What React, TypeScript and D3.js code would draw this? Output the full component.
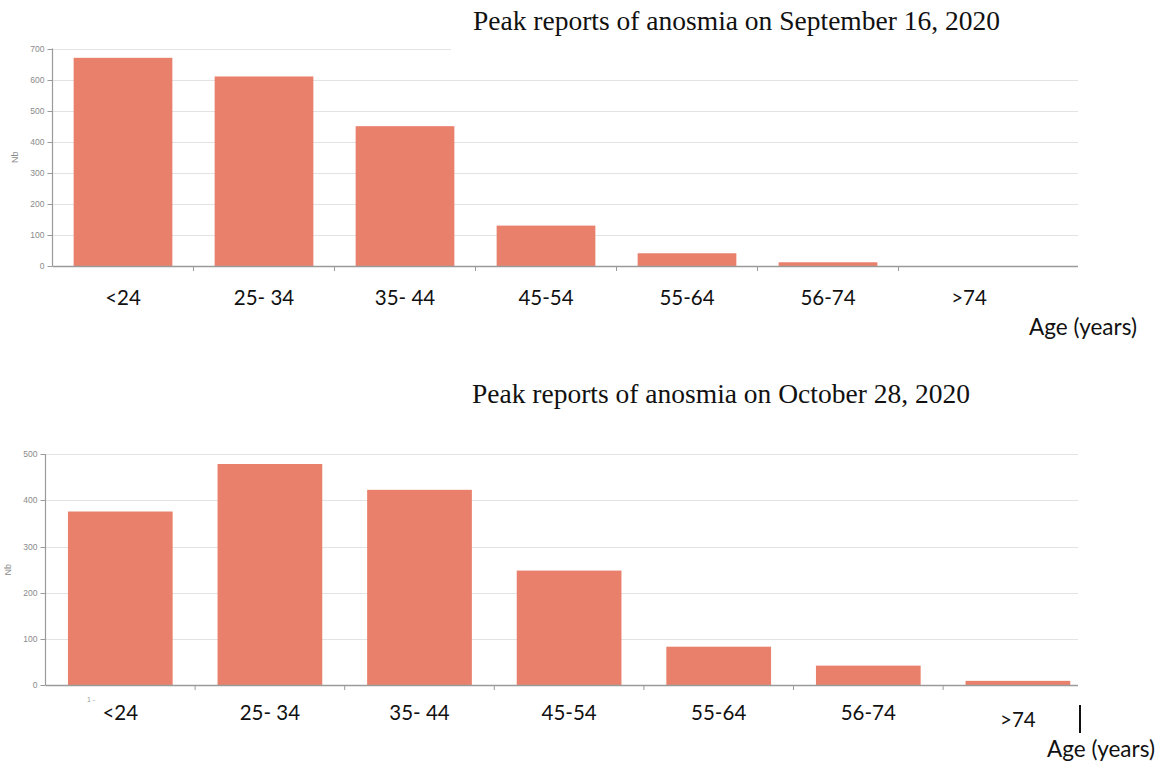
import React, { useRef, useEffect } from 'react';
import * as d3 from 'd3';

const ageGroups = ['<24', '25- 34', '35- 44', '45-54', '55-64', '56-74', '>74'];
const septemberCounts = [670, 610, 450, 130, 41, 12, 0];
const octoberCounts = [376, 479, 423, 248, 83, 42, 9];
const septemberTicks = [0, 100, 200, 300, 400, 500, 600, 700];
const octoberTicks = [0, 100, 200, 300, 400, 500];

const BAR = '#e9806c';
const GRID = '#e3e3e3';
const AXIS = '#9a9a9a';
const LABEL_FONT = 'Lato, "Open Sans", sans-serif';
const TITLE_FONT = '"Liberation Serif", "DejaVu Serif", serif';

const App = () => {
  const svgRef = useRef(null);

  useEffect(() => {
    const svg = d3.select(svgRef.current);
    svg.selectAll('*').remove();

    const panels = [
      {
        title: 'Peak reports of anosmia on September 16, 2020',
        values: septemberCounts, ticks: septemberTicks, yMax: 700,
        left: 52.5, step: 141, axisEnd: 1078, y0: 266, yTop: 48.5,
        titleX: 473, titleY: 30, labelY: 305, nbX: 18, maskFrom: 451,
        ageX: 1029, ageY: 335, lastLabelY: 305, bar: false, small: false,
      },
      {
        title: 'Peak reports of anosmia on October 28, 2020',
        values: octoberCounts, ticks: octoberTicks, yMax: 500,
        left: 45.5, step: 149.6, axisEnd: 1078, y0: 685, yTop: 454.3,
        titleX: 472, titleY: 403, labelY: 720, nbX: 11, maskFrom: null,
        ageX: 1047, ageY: 757, lastLabelY: 727, bar: true, small: true,
      },
    ];

    panels.forEach(p => {
      const x = d3.scaleBand()
        .domain(ageGroups)
        .range([p.left, p.left + p.step * ageGroups.length])
        .paddingInner(0.3)
        .paddingOuter(0.15);

      const y = d3.scaleLinear()
        .domain([0, p.yMax])
        .range([p.y0, p.yTop]);

      const g = svg.append('g');

      // gridlines
      g.selectAll('.grid')
        .data(p.ticks.filter(t => t > 0))
        .enter().append('line')
        .attr('x1', p.left)
        .attr('x2', p.axisEnd)
        .attr('y1', d => Math.round(y(d)) + 0.5)
        .attr('y2', d => Math.round(y(d)) + 0.5)
        .attr('stroke', GRID)
        .attr('stroke-width', 1.2);

      // bars
      g.selectAll('.bar')
        .data(p.values)
        .enter().append('rect')
        .attr('x', (d, i) => x(ageGroups[i]))
        .attr('y', d => y(d))
        .attr('width', x.bandwidth())
        .attr('height', d => p.y0 - y(d))
        .attr('fill', BAR);

      // y axis
      g.append('line')
        .attr('x1', p.left).attr('x2', p.left)
        .attr('y1', y(p.yMax)).attr('y2', p.y0)
        .attr('stroke', AXIS).attr('stroke-width', 1.2);

      g.selectAll('.ytick')
        .data(p.ticks)
        .enter().append('line')
        .attr('x1', p.left - 5).attr('x2', p.left)
        .attr('y1', d => Math.round(y(d)) + 0.5)
        .attr('y2', d => Math.round(y(d)) + 0.5)
        .attr('stroke', AXIS);

      g.selectAll('.ylabel')
        .data(p.ticks)
        .enter().append('text')
        .attr('x', p.left - 8)
        .attr('y', d => y(d) + 3)
        .attr('text-anchor', 'end')
        .style('font-family', '"Liberation Sans", Arial, sans-serif')
        .style('font-size', '8.5px')
        .style('fill', '#8a8a8a')
        .text(d => d);

      g.append('text')
        .attr('transform', `translate(${p.nbX},${(p.y0 + y(p.yMax)) / 2}) rotate(-90)`)
        .attr('text-anchor', 'middle')
        .style('font-family', '"Liberation Sans", Arial, sans-serif')
        .style('font-size', '9px')
        .style('fill', '#8a8a8a')
        .text('Nb');

      // x axis
      g.append('line')
        .attr('x1', p.left).attr('x2', p.axisEnd)
        .attr('y1', p.y0 + 0.5).attr('y2', p.y0 + 0.5)
        .attr('stroke', AXIS).attr('stroke-width', 1.5);

      g.selectAll('.xtick')
        .data(ageGroups.slice(1))
        .enter().append('line')
        .attr('x1', d => x(d) - x.step() * x.paddingInner() / 2)
        .attr('x2', d => x(d) - x.step() * x.paddingInner() / 2)
        .attr('y1', p.y0)
        .attr('y2', p.y0 + 5)
        .attr('stroke', AXIS);

      // category labels
      g.selectAll('.xlabel')
        .data(ageGroups)
        .enter().append('text')
        .attr('x', d => x(d) + x.bandwidth() / 2)
        .attr('y', (d, i) => i === ageGroups.length - 1 ? p.lastLabelY : p.labelY)
        .attr('text-anchor', 'middle')
        .style('font-family', LABEL_FONT)
        .style('font-size', '20.5px')
        .style('fill', '#111')
        .text(d => d);

      g.append('text')
        .attr('x', p.ageX)
        .attr('y', p.ageY)
        .style('font-family', LABEL_FONT)
        .style('font-size', '22.5px')
        .style('fill', '#111')
        .text('Age (years)');

      if (p.bar) {
        g.append('line')
          .attr('x1', 1080).attr('x2', 1080)
          .attr('y1', 705).attr('y2', 733)
          .attr('stroke', '#111').attr('stroke-width', 2);
      }

      if (p.small) {
        g.append('text')
          .attr('x', 87)
          .attr('y', 702)
          .style('font-family', '"Liberation Sans", Arial, sans-serif')
          .style('font-size', '7px')
          .style('fill', '#999')
          .text('1 -');
      }

      // title (its box hides the top gridline on the right)
      if (p.maskFrom !== null) {
        g.append('rect')
          .attr('x', p.maskFrom).attr('y', 0)
          .attr('width', 1162 - p.maskFrom).attr('height', 52)
          .attr('fill', '#fff');
      }

      g.append('text')
        .attr('x', p.titleX)
        .attr('y', p.titleY)
        .style('font-family', TITLE_FONT)
        .style('font-size', '27.5px')
        .style('fill', '#111')
        .text(p.title);
    });
  }, []);

  return (
    <svg
      ref={svgRef}
      width={1162}
      height={762}
      style={{ position: 'absolute', left: 0, top: 0, background: '#fff' }}
    />
  );
};

export default App;
